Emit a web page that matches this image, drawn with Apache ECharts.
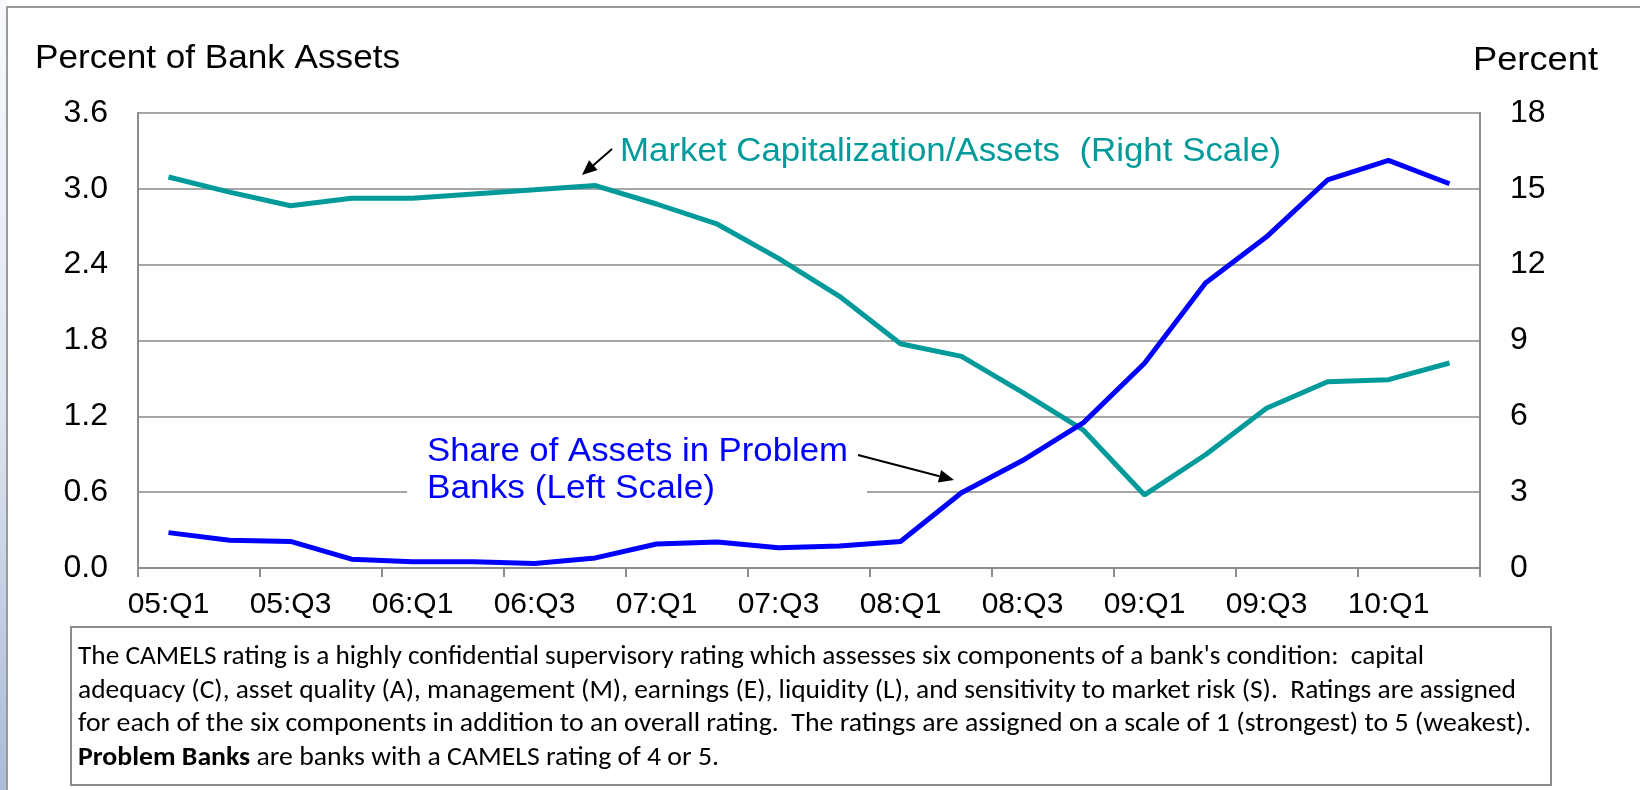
<!DOCTYPE html>
<html><head><meta charset="utf-8">
<script src="https://cdn.jsdelivr.net/npm/echarts@6/dist/echarts.min.js"></script>
<style>html,body{margin:0;padding:0;background:#fff}#c{width:1640px;height:790px}</style>
</head><body><div id="c"></div>
<script>
const categories = ['05:Q1','05:Q2','05:Q3','05:Q4','06:Q1','06:Q2','06:Q3','06:Q4','07:Q1','07:Q2','07:Q3','07:Q4','08:Q1','08:Q2','08:Q3','08:Q4','09:Q1','09:Q2','09:Q3','09:Q4','10:Q1','10:Q2'];
const problemBankShare = [0.28, 0.22, 0.21, 0.07, 0.05, 0.05, 0.035, 0.08, 0.19, 0.205, 0.16, 0.175, 0.21, 0.595, 0.85, 1.15, 1.62, 2.255, 2.62, 3.07, 3.225, 3.04];
const marketCapToAssets = [15.47, 14.87, 14.33, 14.63, 14.63, 14.8, 14.96, 15.13, 14.4, 13.6, 12.25, 10.75, 8.87, 8.37, 6.95, 5.45, 2.89, 4.48, 6.32, 7.37, 7.45, 8.11];
const leftScale = {min: 0, max: 3.6, step: 0.6};
const rightScale = {min: 0, max: 18, step: 3};
const leftTitle = 'Percent of Bank Assets';
const rightTitle = 'Percent';
const marketLabel = 'Market Capitalization/Assets  (Right Scale)';
const problemLabel = ['Share of Assets in Problem', 'Banks (Left Scale)'];
const noteLines = [
  'The CAMELS rating is a highly confidential supervisory rating which assesses six components of a bank\'s condition:  capital',
  'adequacy (C), asset quality (A), management (M), earnings (E), liquidity (L), and sensitivity to market risk (S).  Ratings are assigned',
  'for each of the six components in addition to an overall rating.  The ratings are assigned on a scale of 1 (strongest) to 5 (weakest).'
];
const noteBold = 'Problem Banks';
const noteLast = ' are banks with a CAMELS rating of 4 or 5.';

const FONT = '"Liberation Sans", Arial, sans-serif';
const NOTEFONT = 'Carlito, Calibri, "Liberation Sans Narrow", "Open Sans", sans-serif';
const TEAL = '#009a9a';
const BLUE = '#0000ff';
const GRID = '#a6a6a6';

const mctx = document.createElement('canvas').getContext('2d');
function measure(text, font) { mctx.font = font; return mctx.measureText(text).width; }
function fitScale(w, target) { return Math.max(0.85, Math.min(1.2, target / w)); }

// text element stretched horizontally to the width it occupies in the reference
function fittedText(text, x, y, size, color, targetWidth, family, weight) {
  const font = (weight ? weight + ' ' : '') + size + 'px ' + (family || FONT);
  const s = fitScale(measure(text, font), targetWidth);
  return {type: 'text', z: 10, x: x, y: y, scaleX: s, style: {x: 0, y: 0, text: text, font: font, fill: color, textVerticalAlign: 'middle'}};
}

function arrow(x1, y1, x2, y2) {
  const dx = x2 - x1, dy = y2 - y1, L = Math.hypot(dx, dy), ux = dx / L, uy = dy / L;
  const hl = 15, hw = 6.5;
  const bx = x2 - ux * hl, by = y2 - uy * hl;
  return [
    {type: 'line', z: 20, shape: {x1: x1, y1: y1, x2: bx, y2: by}, style: {stroke: '#000', lineWidth: 2}},
    {type: 'polygon', z: 20, shape: {points: [[x2, y2], [bx - uy * hw, by + ux * hw], [bx + uy * hw, by - ux * hw]]}, style: {fill: '#000'}}
  ];
}

// note box text: one element per line
const NOTE_SIZE = 27, NOTE_X = 78, NOTE_Y0 = 657, NOTE_LH = 33.8;
const noteTargets = [1346, 1438, 1453, 641];
const noteEls = noteLines.map((l, i) => fittedText(l, NOTE_X, NOTE_Y0 + i * NOTE_LH, NOTE_SIZE, '#000', noteTargets[i], NOTEFONT));
(function () {
  const fb = 'bold ' + NOTE_SIZE + 'px ' + NOTEFONT, fn = NOTE_SIZE + 'px ' + NOTEFONT;
  const w = measure(noteBold, fb) + measure(noteLast, fn);
  const s = fitScale(w, noteTargets[3]);
  noteEls.push({type: 'text', z: 11, x: NOTE_X, y: NOTE_Y0 + 3 * NOTE_LH, scaleX: s, style: {
    x: 0, y: 0, text: '{b|' + noteBold + '}{n|' + noteLast + '}', textVerticalAlign: 'middle',
    rich: {
      n: {fontFamily: NOTEFONT, fontSize: NOTE_SIZE, color: '#000'},
      b: {fontFamily: NOTEFONT, fontSize: NOTE_SIZE, fontWeight: 'bold', color: '#000'}
    }
  }});
})();
noteEls.forEach(e => { e.z = 11; });

const chart = echarts.init(document.getElementById('c'), null, {renderer: 'canvas'});
const option = {
  backgroundColor: '#ffffff',
  animation: false,
  grid: {left: 138, top: 113, width: 1342, height: 455, show: true, borderColor: '#8c8c8c', borderWidth: 2, backgroundColor: 'transparent'},
  xAxis: {
    type: 'category', data: categories, boundaryGap: true,
    axisLine: {lineStyle: {color: '#8c8c8c', width: 2}},
    axisTick: {show: true, interval: 1, length: 9, lineStyle: {color: '#8c8c8c', width: 2}},
    axisLabel: {interval: 1, margin: 22, fontFamily: FONT, fontSize: 30, color: '#000'},
    splitLine: {show: false}
  },
  yAxis: [
    {
      type: 'value', min: leftScale.min, max: leftScale.max, interval: leftScale.step, position: 'left',
      axisLine: {show: true, lineStyle: {color: '#8c8c8c', width: 2}},
      axisTick: {show: false},
      axisLabel: {margin: 30, fontFamily: FONT, fontSize: 32, color: '#000', formatter: v => v.toFixed(1)},
      splitLine: {show: true, lineStyle: {color: GRID, width: 2}}
    },
    {
      type: 'value', min: rightScale.min, max: rightScale.max, interval: rightScale.step, position: 'right',
      axisLine: {show: true, lineStyle: {color: '#8c8c8c', width: 2}},
      axisTick: {show: false},
      axisLabel: {margin: 30, fontFamily: FONT, fontSize: 32, color: '#000', formatter: v => String(Math.round(v))},
      splitLine: {show: false}
    }
  ],
  series: [
    {name: 'Share of Assets in Problem Banks', type: 'line', yAxisIndex: 0, data: problemBankShare, symbol: 'none', z: 5,
      lineStyle: {color: BLUE, width: 5}},
    {name: 'Market Capitalization/Assets', type: 'line', yAxisIndex: 1, data: marketCapToAssets, symbol: 'none', z: 4,
      lineStyle: {color: TEAL, width: 5}}
  ],
  graphic: [
    {type: 'rect', z: 0, shape: {x: 0, y: 0, width: 6, height: 790},
      style: {fill: new echarts.graphic.LinearGradient(0, 0, 0, 1, [{offset: 0, color: '#f7f9fc'}, {offset: 0.5, color: '#dfe6f1'}, {offset: 1, color: '#a9bcd8'}])}},
    {type: 'polyline', z: 0, shape: {points: [[7, 790], [7, 7], [1640, 7]]}, style: {stroke: '#9a9a9a', lineWidth: 2, fill: null}},
    fittedText(leftTitle, 35, 59, 34, '#000', 365),
    fittedText(rightTitle, 1473, 61, 34, '#000', 125),
    {type: 'rect', z: 1, shape: {x: 407, y: 428, width: 460, height: 84}, style: {fill: '#fff'}},
    fittedText(marketLabel, 620, 152, 34, TEAL, 661),
    fittedText(problemLabel[0], 427, 452, 34, BLUE, 421),
    fittedText(problemLabel[1], 427, 489, 34, BLUE, 288),
    ...arrow(612, 149, 582, 175),
    ...arrow(858, 455, 954, 480),
    {type: 'rect', z: 10, shape: {x: 71, y: 627, width: 1480, height: 158}, style: {fill: '#fff', stroke: '#8c8c8c', lineWidth: 2}},
    ...noteEls
  ]
};
chart.setOption(option);
</script>
</body></html>
